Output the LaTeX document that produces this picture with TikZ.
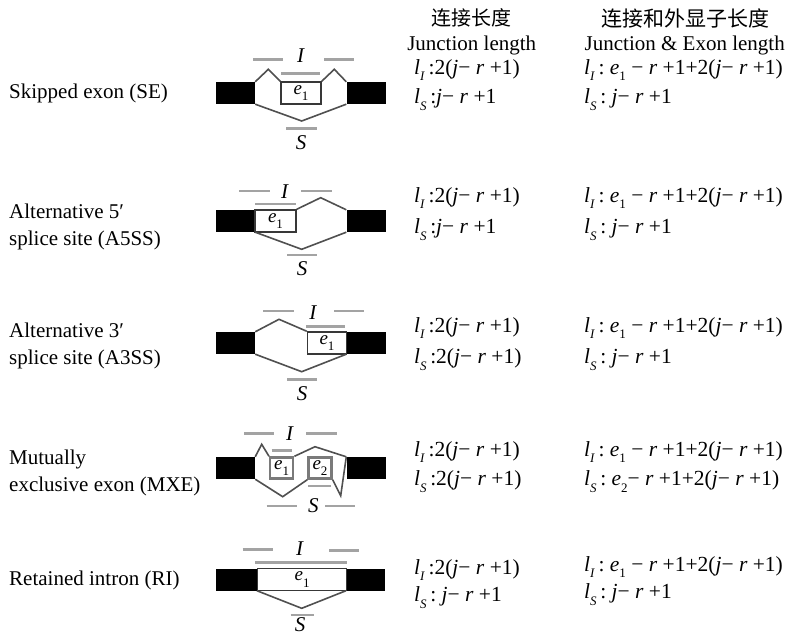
\documentclass[tikz,border=0pt]{standalone}
\usepackage{fontspec}
\setmainfont{Liberation Serif}
\newfontfamily\cjkfont{Noto Sans CJK SC}
\definecolor{juncgray}{HTML}{505050}
\definecolor{readgray}{HTML}{A3A3A3}
\definecolor{boxgray}{HTML}{383838}
\definecolor{mxegray}{HTML}{7A7A7A}
\newcommand\bigtext{\fontsize{21}{27}\selectfont}
\newcommand\formfont{\fontsize{21.5}{24}\selectfont}
\newcommand\elabfont{\fontsize{19}{22}\selectfont}
\newcommand\subi[1]{\raisebox{-0.32em}{\fontsize{13}{13}\selectfont\textit{#1}}}
\newcommand\subu[1]{\raisebox{-0.32em}{\fontsize{13}{13}\selectfont #1}}
\newcommand\lenI{\textit{l}\subi{I}}
\newcommand\lenS{\textit{l}\subi{S}}
\newcommand\jr{\textit{j}−\ \textit{r}\ +1}
\newcommand\eone{\textit{e}\subu{1}}
\newcommand\etwo{\textit{e}\subu{2}}

\tikzset{
  exon/.style={fill=black, draw=none, minimum width=39pt, minimum height=22pt, inner sep=0pt},
  ebox/.style={draw=boxgray, line width=1.5pt, fill=white, minimum height=22pt, inner sep=0pt, font=\elabfont},
  mxebox/.style={ebox, draw=mxegray, line width=2.4pt, minimum width=23pt, minimum height=21pt},
  junc/.style={draw=juncgray, line width=1.6pt, line join=miter},
  readln/.style={draw=readgray, line width=2.6pt},
  rlab/.style={font=\bigtext, inner sep=0pt},
  typelab/.style={font=\bigtext, inner sep=0pt, anchor=west, align=left},
  head/.style={font=\bigtext, inner sep=0pt},
  form/.style={font=\formfont, inner sep=0pt, anchor=west},
}

\begin{document}
\begin{tikzpicture}[x=1pt, y=-1pt]
\useasboundingbox (0,0) rectangle (790,637);
\fill[white] (0,0) rectangle (790,637);

% column headers
\node[head, font=\cjkfont\fontsize{20}{24}\selectfont] (h1cn) at (471.7,18) {连接长度};
\node[head] (h1en) at (471.7,45) {Junction length};
\node[head, font=\cjkfont\fontsize{21}{24}\selectfont] (h2cn) at (685,18) {连接和外显子长度};
\node[head] (h2en) at (684.7,45) {Junction \& Exon length};

% event type labels
\node[typelab] (t1) at (9,93.3) {Skipped exon (SE)};
\node[typelab] (t2) at (9,226.7) {Alternative 5′\\splice site (A5SS)};
\node[typelab] (t3) at (9,345.8) {Alternative 3′\\splice site (A3SS)};
\node[typelab] (t4) at (9,473.3) {Mutually\\exclusive exon (MXE)};
\node[typelab] (t5) at (9,580) {Retained intron (RI)};

% ---------- SE ----------
\node[exon] (L1) at (235.5,93) {};
\node[exon] (R1) at (366,93) {};
\node[ebox, minimum width=40pt] (E1) at (301,93) {\eone};
\coordinate (p1a) at (268.3,69.3);
\coordinate (p1b) at (334.3,69.3);
\coordinate (p1c) at (301.7,121);
\draw[junc] (L1.north east) -- (p1a) -- (E1.north west);
\draw[junc] (E1.north east) -- (p1b) -- (R1.north west);
\draw[junc] (L1.south east) -- (p1c) -- (R1.south west);
\draw[readln] (253.3,59.3) -- (283.3,59.3);
\draw[readln] (324,59.3) -- (354.3,59.3);
\draw[readln] (281,73.7) -- (320,73.7);
\draw[readln] (286,128.3) -- (317.3,128.3);
\node[rlab] (I1) at (301,56) {\textit{I}};
\node[rlab] (S1) at (301,143) {\textit{S}};

% ---------- A5SS ----------
\node[exon] (L2) at (235.5,221) {};
\node[exon] (R2) at (366,221) {};
\node[ebox, minimum width=41pt] (E2) at (275.5,221) {\eone};
\coordinate (p2a) at (320.7,197.7);
\coordinate (p2c) at (301.7,249.3);
\draw[junc] (E2.north east) -- (p2a) -- (R2.north west);
\draw[junc] (L2.south east) -- (p2c) -- (R2.south west);
\draw[readln] (239.3,191) -- (270,191);
\draw[readln] (301,191) -- (331.7,191);
\draw[readln] (255,204) -- (296,204);
\draw[readln] (287.3,255) -- (317.3,255);
\node[rlab] (I2) at (285,191.5) {\textit{I}};
\node[rlab] (S2) at (302,269) {\textit{S}};

% ---------- A3SS ----------
\node[exon] (L3) at (235.5,343) {};
\node[exon] (R3) at (366,343) {};
\node[ebox, minimum width=39pt] (E3) at (327,343) {\eone};
\coordinate (p3a) at (279,319.3);
\coordinate (p3c) at (301.7,371.7);
\draw[junc] (L3.north east) -- (p3a) -- (E3.north west);
\draw[junc] (L3.south east) -- (p3c) -- (R3.south west);
\draw[readln] (263.3,311) -- (294,311);
\draw[readln] (334,311) -- (364.3,311);
\draw[readln] (306,326.7) -- (345,326.7);
\draw[readln] (287.3,379.3) -- (317.3,379.3);
\node[rlab] (I3) at (313.3,313) {\textit{I}};
\node[rlab] (S3) at (302,394) {\textit{S}};

% ---------- MXE ----------
\node[exon] (L4) at (235.5,468) {};
\node[exon] (R4) at (366,468) {};
\node[mxebox] (E4a) at (281.7,468) {\eone};
\node[mxebox] (E4b) at (320,468) {\etwo};
\coordinate (p4a) at (261.7,444.3);
\coordinate (p4b) at (315,446.7);
\coordinate (p4c) at (282.7,496.7);
\coordinate (p4d) at (340.7,495.7);
\draw[junc] (L4.north east) -- (p4a) -- (E4a.north west);
\draw[junc] (E4a.north east) -- (p4b) -- (R4.north west);
\draw[junc] (L4.south east) -- (p4c) -- (E4b.south west);
\draw[junc] (E4b.south east) -- (p4d) -- (R4.north west);
\draw[readln] (244.3,433.7) -- (274,433.7);
\draw[readln] (306,433.7) -- (336.7,433.7);
\draw[readln] (271.7,450.7) -- (291.7,450.7);
\draw[readln] (308.3,486) -- (331,486);
\draw[readln] (266.7,506) -- (296.7,506);
\draw[readln] (325,506) -- (355,506);
\node[rlab] (I4) at (290,434) {\textit{I}};
\node[rlab] (S4) at (313.3,506) {\textit{S}};

% ---------- RI ----------
\node[exon, minimum width=41pt] (L5) at (236.2,579.5) {};
\node[exon] (R5) at (365.7,579.5) {};
\node[ebox, minimum width=89pt, anchor=west] (E5) at (L5.east) {\raisebox{0.35ex}{\eone}};
\coordinate (p5c) at (301.7,608.3);
\draw[junc] (L5.south east) -- (p5c) -- (R5.south west);
\draw[readln] (242.7,549.3) -- (273.3,549.3);
\draw[readln] (329.3,550.7) -- (359.3,550.7);
\draw[readln] (255,562.7) -- (346.7,562.7);
\draw[readln] (290.7,615) -- (314,615);
\node[rlab] (I5) at (300,549) {\textit{I}};
\node[rlab] (S5) at (300,625) {\textit{S}};

% ---------- length formulas ----------
\node[form] (a1) at (414,70) {\lenI\,:2(\jr)};
\node[form] (b1) at (414,100) {\lenS\,:\jr};
\node[form] (c1) at (584,70) {\lenI\,:\ \eone\ −\ \textit{r}\ +1+2(\jr)};
\node[form] (d1) at (584,100) {\lenS\,:\ \jr};

\node[form] (a2) at (414,198) {\lenI\,:2(\jr)};
\node[form] (b2) at (414,230) {\lenS\,:\jr};
\node[form] (c2) at (584,198) {\lenI\,:\ \eone\ −\ \textit{r}\ +1+2(\jr)};
\node[form] (d2) at (584,230) {\lenS\,:\ \jr};

\node[form] (a3) at (414,328) {\lenI\,:2(\jr)};
\node[form] (b3) at (414,360) {\lenS\,:2(\jr)};
\node[form] (c3) at (584,328) {\lenI\,:\ \eone\ −\ \textit{r}\ +1+2(\jr)};
\node[form] (d3) at (584,360) {\lenS\,:\ \jr};

\node[form] (a4) at (414,452) {\lenI\,:2(\jr)};
\node[form] (b4) at (414,482) {\lenS\,:2(\jr)};
\node[form] (c4) at (584,452) {\lenI\,:\ \eone\ −\ \textit{r}\ +1+2(\jr)};
\node[form] (d4) at (584,482) {\lenS\,:\ \etwo−\ \textit{r}\ +1+2(\jr)};

\node[form] (a5) at (414,570) {\lenI\,:2(\jr)};
\node[form] (b5) at (414,598) {\lenS\,:\ \jr};
\node[form] (c5) at (584,567) {\lenI\,:\ \eone\ −\ \textit{r}\ +1+2(\jr)};
\node[form] (d5) at (584,595) {\lenS\,:\ \jr};
\end{tikzpicture}
\end{document}
